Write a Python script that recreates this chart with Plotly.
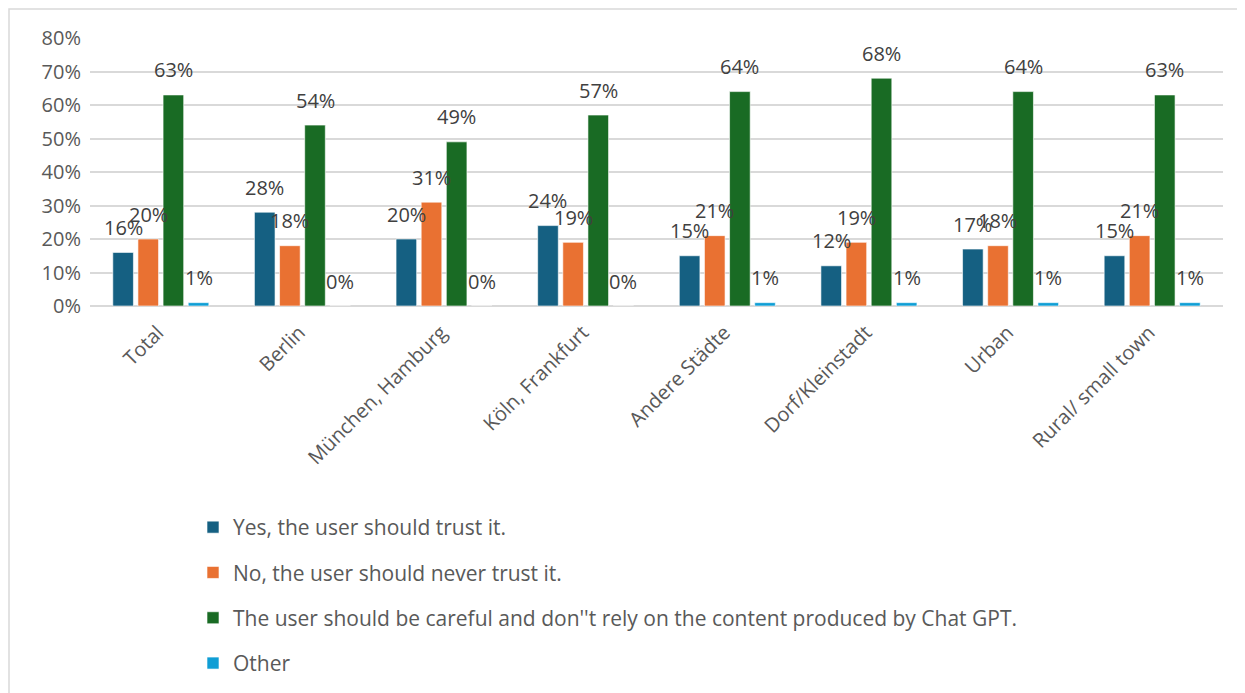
import plotly.graph_objects as go

categories = ["Total", "Berlin", "München, Hamburg", "Köln, Frankfurt", "Andere Städte",
              "Dorf/Kleinstadt", "Urban", "Rural/ small town"]
series_names = ["Yes, the user should trust it.",
                "No, the user should never trust it.",
                "The user should be careful and don''t rely on the content produced by Chat GPT.",
                "Other"]
yes_vals = [0.16, 0.28, 0.20, 0.24, 0.15, 0.12, 0.17, 0.15]
no_vals = [0.20, 0.18, 0.31, 0.19, 0.21, 0.19, 0.18, 0.21]
careful_vals = [0.63, 0.54, 0.49, 0.57, 0.64, 0.68, 0.64, 0.63]
other_vals = [0.01, 0.00, 0.00, 0.00, 0.01, 0.01, 0.01, 0.01]
colors = ["#156082", "#E97132", "#196B24", "#0F9ED5"]
tick_vals = [0, 0.1, 0.2, 0.3, 0.4, 0.5, 0.6, 0.7, 0.8]
tick_text = ["0%", "10%", "20%", "30%", "40%", "50%", "60%", "70%", "80%"]

FONT = "Open Sans"
TXT = "#404040"
GRAY = "#595959"

# page body has an 8px margin; figure laid out in screen pixels minus that offset
OFF = 8
W, H = 1245 - OFF, 693 - OFF
PL, PR, PT, PB = 90 - OFF, 1223 - OFF, 38 - OFF, 306 - OFF   # plot area in figure px
pw = PR - PL
ph = PB - PT
BARGAP, BARGROUPGAP = 0.29, 0.18

all_vals = [yes_vals, no_vals, careful_vals, other_vals]
n_series = len(all_vals)
cat_px = pw / len(categories)
slot_px = cat_px * (1 - BARGAP) / n_series

fig = go.Figure()
annotations = []
for i, (name, vals) in enumerate(zip(series_names, all_vals)):
    fig.add_trace(go.Bar(
        x=categories, y=vals, name=name,
        marker=dict(color=colors[i], line=dict(color="rgba(255,255,255,0.6)", width=1)),
        legendgroup=f"g{i}",
        hoverinfo="x+y+name",
    ))
    xs = (i - (n_series - 1) / 2) * slot_px
    for c, v in zip(categories, vals):
        annotations.append(dict(
            x=c, y=v, xref="x", yref="y", text=f"{round(v*100)}%",
            showarrow=False, xanchor="center", yanchor="middle",
            xshift=xs, yshift=25,
            font=dict(family=FONT, size=20, color=TXT),
        ))

fig.update_layout(
    width=W, height=H,
    margin=dict(l=PL, r=W - PR, t=PT, b=H - PB, autoexpand=False),
    paper_bgcolor="white", plot_bgcolor="white",
    barmode="group", bargap=BARGAP, bargroupgap=BARGROUPGAP,
    font=dict(family=FONT, size=18, color=GRAY),
    showlegend=True,
    legend=dict(orientation="v", x=(185 - PL) / pw, xanchor="left",
                y=(PB - 499) / ph, yanchor="top",
                font=dict(family=FONT, size=21, color=GRAY),
                tracegroupgap=15, itemwidth=30, bgcolor="rgba(0,0,0,0)"),
    xaxis=dict(tickangle=-45, tickfont=dict(family=FONT, size=20, color=GRAY),
               showgrid=False, showline=False, ticks="", automargin=False,
               ticklabelstandoff=10, ticklabelshift=-3),
    yaxis=dict(range=[0, 0.8], tickvals=tick_vals, ticktext=tick_text,
               tickfont=dict(family=FONT, size=20, color=GRAY),
               showgrid=True, gridcolor="#d9d9d9", gridwidth=1.5,
               zeroline=True, zerolinecolor="#d9d9d9", zerolinewidth=1.5,
               showline=False, ticks="", ticklabelstandoff=8, automargin=False),
    annotations=annotations,
    shapes=[dict(type="rect", xref="paper", yref="paper",
                 x0=(1 - PL) / pw, x1=(1260 - PL) / pw,
                 y0=(PB - 710) / ph, y1=(PB - 1) / ph,
                 line=dict(color="#d9d9d9", width=1.5), fillcolor="rgba(0,0,0,0)",
                 layer="below")],
)

fig.write_html("out.html")
